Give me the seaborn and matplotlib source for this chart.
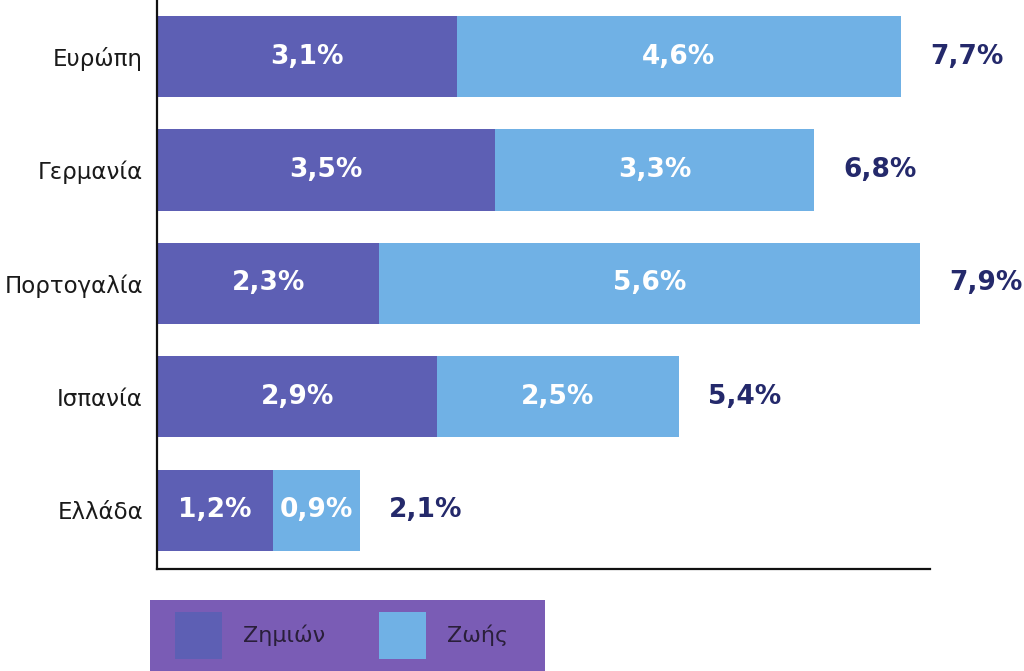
import pandas as pd
import matplotlib.pyplot as plt
import seaborn as sns
from matplotlib.patches import Rectangle

# Data
countries = ["Ευρώπη", "Γερμανία", "Πορτογαλία", "Ισπανία", "Ελλάδα"]
zimion = [3.1, 3.5, 2.3, 2.9, 1.2]
zois = [4.6, 3.3, 5.6, 2.5, 0.9]

c_zimion = "#5d5fb4"
c_zois = "#70b1e5"
c_total = "#24296b"
c_legend = "#7a5cb5"

df = pd.DataFrame({"country": countries, "zimion": zimion, "zois": zois})
df["total"] = df["zimion"] + df["zois"]

def fmt(v):
    return f"{v:.1f}".replace(".", ",") + "%"

sns.set_style("white")
plt.rcParams["font.family"] = ["DejaVu Sans"]

fig = plt.figure(figsize=(10.24, 6.71), dpi=100)
ax = fig.add_axes([157 / 1024, 1 - 569 / 671, 773 / 1024, 569 / 671])

# total bar in light blue, damages on top -> stacked look
sns.barplot(data=df, x="total", y="country", color=c_zois, width=0.715,
            saturation=1, linewidth=0, ax=ax, label="Ζωής")
sns.barplot(data=df, x="zimion", y="country", color=c_zimion, width=0.715,
            saturation=1, linewidth=0, ax=ax, label="Ζημιών")

bar_font = dict(family="DejaVu Sans", weight="bold", fontsize=19)

for i, row in df.iterrows():
    ax.text(row["zimion"] / 2, i, fmt(row["zimion"]), ha="center", va="center",
            color="white", **bar_font)
    ax.text(row["zimion"] + row["zois"] / 2, i, fmt(row["zois"]), ha="center",
            va="center", color="white", **bar_font)
    ax.text(row["total"] + 0.3, i, fmt(row["total"]), ha="left", va="center",
            color=c_total, **bar_font)

ax.set_xlim(0, 8)
ax.set_ylim(4.52, -0.5)
ax.set_xlabel("")
ax.set_ylabel("")
ax.set_xticks([])
ax.tick_params(axis="y", length=0, pad=10, labelsize=16.5, labelcolor="#1a1a1a")

sns.despine(ax=ax, top=True, right=True)
for s in ["left", "bottom"]:
    ax.spines[s].set_color("#111111")
    ax.spines[s].set_linewidth(1.6)

# legend box
fig.patches.append(Rectangle((150 / 1024, 0), 395 / 1024, 71 / 671,
                             transform=fig.transFigure, facecolor=c_legend,
                             edgecolor="none", zorder=-1))
handles, labels = ax.get_legend_handles_labels()
if ax.get_legend() is not None:
    ax.get_legend().remove()
order = [1, 0]
leg = fig.legend([handles[k] for k in order], [labels[k] for k in order],
                 bbox_to_anchor=(175 / 1024, 1 - 635.5 / 671),
                 loc="center left",
                 ncol=2, fontsize=16, handlelength=2.1, handleheight=2.88,
                 handletextpad=0.95, columnspacing=2.45, borderpad=0,
                 borderaxespad=0, frameon=False, labelcolor="#2a1f3a")

plt.savefig("out.png", dpi=100)
plt.close()
